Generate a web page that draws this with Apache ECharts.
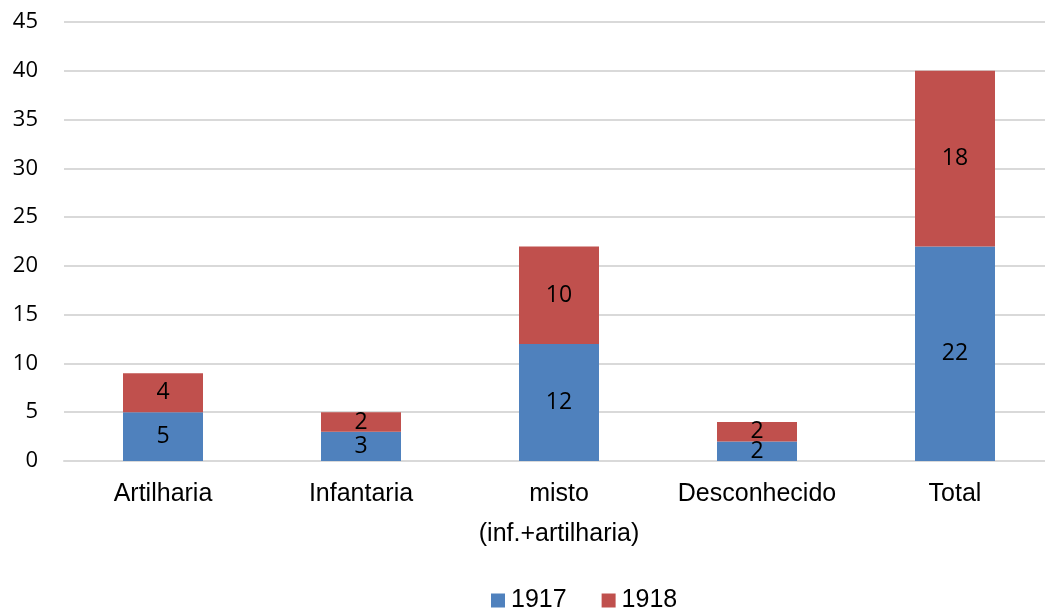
<!DOCTYPE html>
<html><head><meta charset="utf-8">
<script src="https://cdn.jsdelivr.net/npm/echarts@6/dist/echarts.min.js"></script>
<style>html,body{margin:0;padding:0;background:#fff}#c{width:1045px;height:610px}</style>
</head><body><div id="c"></div>
<script>
const categories = ['Artilharia', 'Infantaria', 'misto\n(inf.+artilharia)', 'Desconhecido', 'Total'];
const s1917 = [5, 3, 12, 2, 22];
const s1918 = [4, 2, 10, 2, 18];
const seriesNames = ['1917', '1918'];
const colors = ['#4F81BD', '#C0504D'];

const chart = echarts.init(document.getElementById('c'));
const lbl = {show: true, position: 'inside', color: '#000', fontSize: 23, fontFamily: 'Open Sans, sans-serif'};
chart.setOption({
  animation: false,
  grid: {left: 64, width: 990, top: 22, height: 439, outerBoundsMode: 'none', containLabel: false},
  legend: {
    top: 583, left: 486, itemWidth: 14, itemHeight: 14, itemGap: 35,
    icon: 'rect',
    textStyle: {fontSize: 25, fontFamily: 'Liberation Sans, Arial, sans-serif', color: '#000', padding: [0,0,0,1]},
    data: seriesNames
  },
  xAxis: {
    type: 'category', data: categories,
    axisLine: {show: true, lineStyle: {color: '#d9d9d9', width: 2}},
    axisTick: {show: false},
    axisLabel: {interval: 0, fontSize: 25, fontFamily: 'Liberation Sans, Arial, sans-serif', color: '#000', margin: 13, lineHeight: 40}
  },
  yAxis: {
    type: 'value', min: 0, max: 45, interval: 5,
    axisLine: {show: false}, axisTick: {show: false},
    splitLine: {lineStyle: {color: '#d9d9d9', width: 2}},
    axisLabel: {fontSize: 22, fontFamily: 'Open Sans, sans-serif', color: '#000', margin: 26}
  },
  series: [
    {name: seriesNames[0], type: 'bar', stack: 'a', data: s1917, barWidth: 80, itemStyle: {color: colors[0]}, label: lbl},
    {name: seriesNames[1], type: 'bar', stack: 'a', data: s1918, barWidth: 80, itemStyle: {color: colors[1]}, label: lbl}
  ]
});
</script></body></html>
